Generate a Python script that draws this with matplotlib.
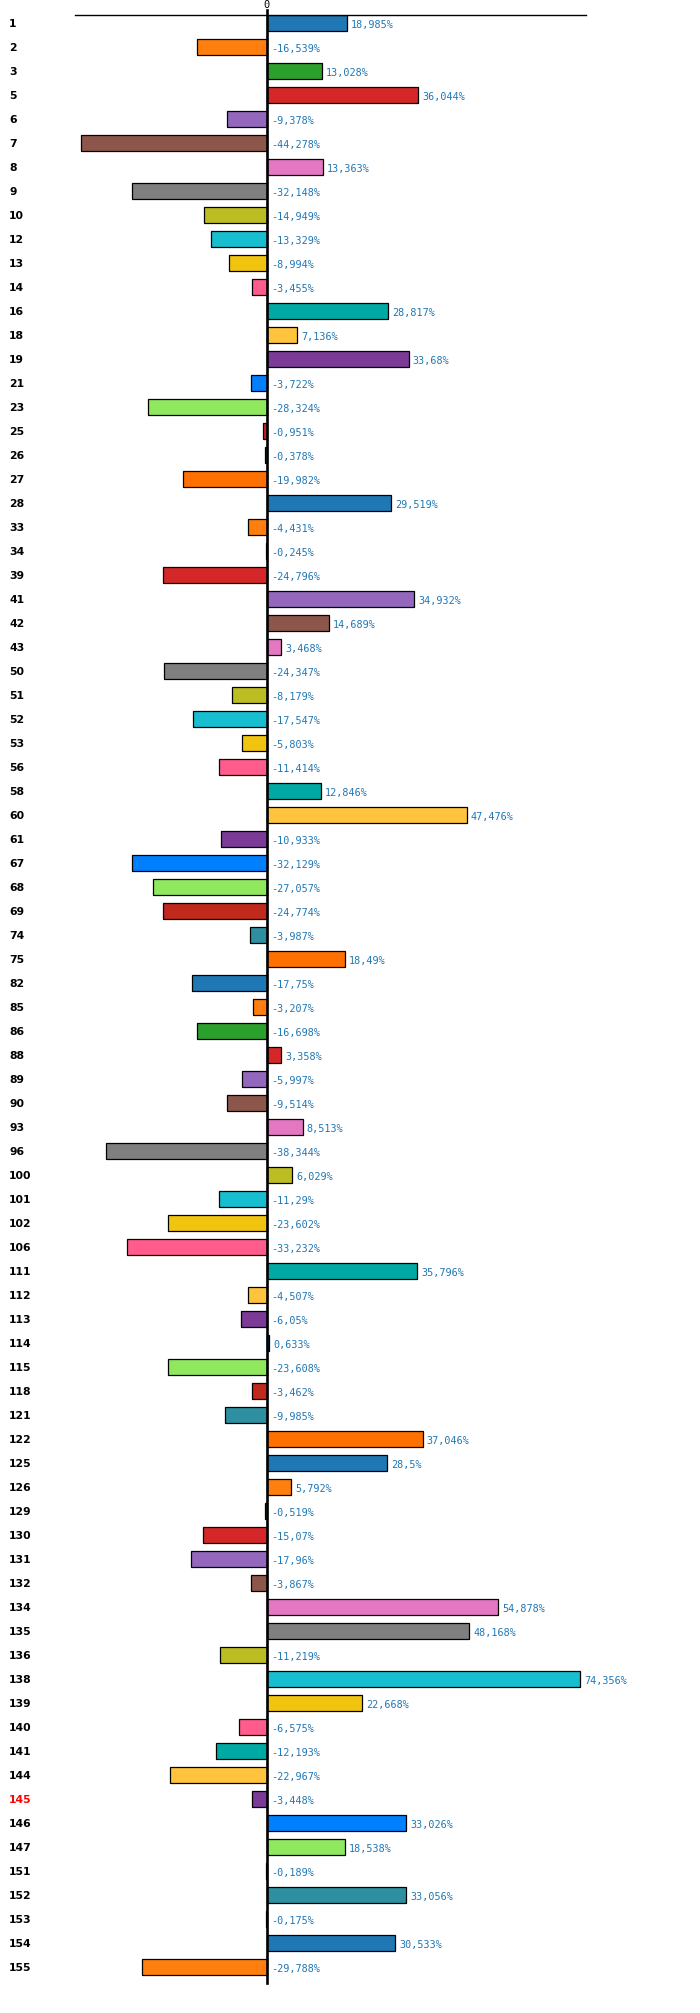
import matplotlib
matplotlib.use("Agg")
import matplotlib.pyplot as plt

categories = [1, 2, 3, 5, 6, 7, 8, 9, 10, 12, 13, 14, 16, 18, 19, 21, 23, 25, 26, 27,
              28, 33, 34, 39, 41, 42, 43, 50, 51, 52, 53, 56, 58, 60, 61, 67, 68, 69, 74, 75,
              82, 85, 86, 88, 89, 90, 93, 96, 100, 101, 102, 106, 111, 112, 113, 114, 115, 118, 121, 122,
              125, 126, 129, 130, 131, 132, 134, 135, 136, 138, 139, 140, 141, 144, 145, 146, 147, 151, 152, 153,
              154, 155]

values = [18.985, -16.539, 13.028, 36.044, -9.378, -44.278, 13.363, -32.148, -14.949, -13.329,
          -8.994, -3.455, 28.817, 7.136, 33.68, -3.722, -28.324, -0.951, -0.378, -19.982,
          29.519, -4.431, -0.245, -24.796, 34.932, 14.689, 3.468, -24.347, -8.179, -17.547,
          -5.803, -11.414, 12.846, 47.476, -10.933, -32.129, -27.057, -24.774, -3.987, 18.49,
          -17.75, -3.207, -16.698, 3.358, -5.997, -9.514, 8.513, -38.344, 6.029, -11.29,
          -23.602, -33.232, 35.796, -4.507, -6.05, 0.633, -23.608, -3.462, -9.985, 37.046,
          28.5, 5.792, -0.519, -15.07, -17.96, -3.867, 54.878, 48.168, -11.219, 74.356,
          22.668, -6.575, -12.193, -22.967, -3.448, 33.026, 18.538, -0.189, 33.056, -0.175,
          30.533, -29.788]

highlight = [145]

palette = ["#1f77b4", "#ff7f0e", "#2ca02c", "#d62728", "#9467bd",
           "#8c564b", "#e377c2", "#7f7f7f", "#bcbd22", "#17becf",
           "#f1c40f", "#ff5c8d", "#00aaa4", "#ffc33d", "#7b3b97",
           "#0080ff", "#90e85e", "#c0291b", "#2e8fa0", "#ff7000"]

W, H = 700, 2013
fig = plt.figure(figsize=(W / 100, H / 100), dpi=100)
left_px, right_px, top_px, bot_px = 75, 585.7, 15, 1983
ax = fig.add_axes([left_px / W, 1 - bot_px / H, (right_px - left_px) / W, (bot_px - top_px) / H])

n = len(categories)
ys = list(range(n))
colors = [palette[i % len(palette)] for i in range(n)]
ax.barh(ys, values, height=0.64, color=colors, edgecolor="black", linewidth=0.9, zorder=2)

ax.set_xlim(-45.6, 75.8)
ax.set_ylim(n - 1 / 3, -1 / 3)

for s in ["left", "right", "bottom"]:
    ax.spines[s].set_visible(False)
ax.spines["top"].set_linewidth(1.0)
ax.set_xticks([])
ax.set_yticks([])

# zero line, extending slightly above the top axis line
ax.plot([0, 0], [-1 / 3 - 5 / 24, n - 1 / 3], color="black", lw=1.9, clip_on=False, zorder=3)
ax.text(0, -1 / 3 - 10.0 / 24, "0", ha="center", va="center",
        fontsize=7.5, family="DejaVu Sans Mono", color="black", clip_on=False)

lab_tr = ax.get_yaxis_transform()
x_lab = (9 - left_px) / (right_px - left_px)
for y, c, v in zip(ys, categories, values):
    ax.text(x_lab, y + 0.05, str(c), transform=lab_tr, ha="left", va="center",
            fontsize=7.8, fontweight="bold", family="DejaVu Sans",
            color="red" if c in highlight else "black")
    s = f"{v:g}".replace(".", ",") + "%"
    x0 = v if v > 0 else 0
    ax.annotate(s, (x0, y + 0.07), xytext=(3.0, 0), textcoords="offset points",
                ha="left", va="center", fontsize=7.3, family="DejaVu Sans Mono",
                color="#1f77b4")

fig.savefig("out.png", dpi=100)
